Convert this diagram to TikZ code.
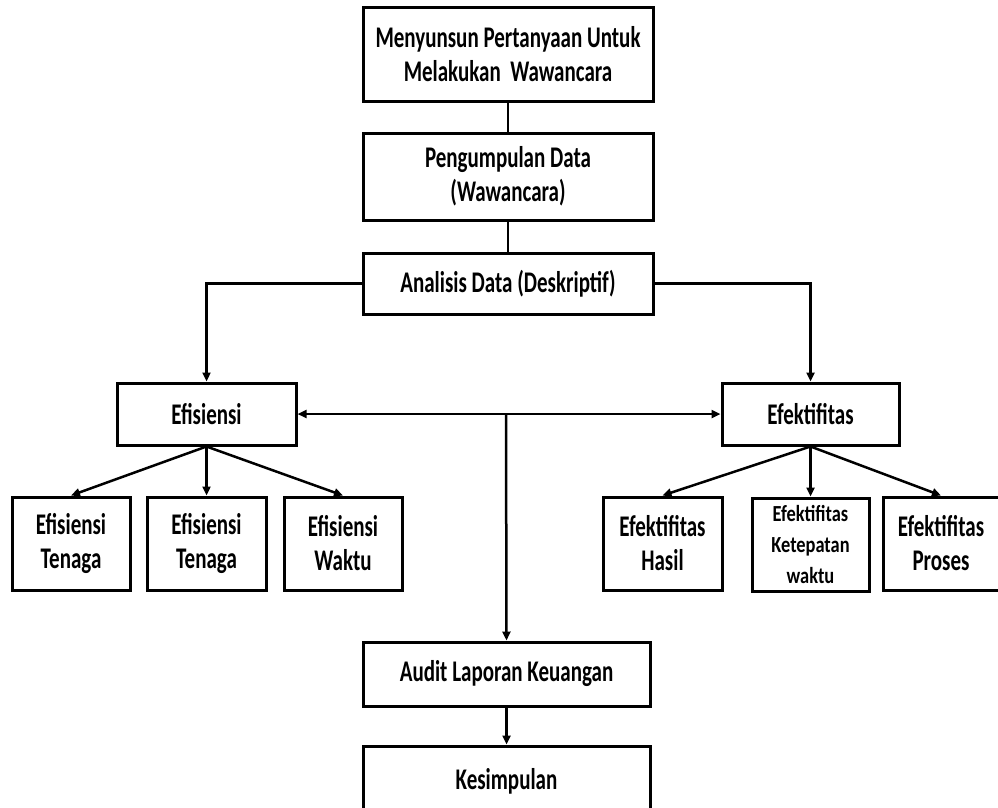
\documentclass[tikz,border=0pt]{standalone}
\usepackage{fontspec}
\setmainfont{Carlito}[FakeStretch=0.7]
\newfontfamily\wideboxfont{Carlito}[FakeStretch=0.8]
\usetikzlibrary{arrows.meta}
\begin{document}
\begin{tikzpicture}[x=1pt,y=-1pt,
  box/.style={draw, line width=3pt, align=center, inner sep=0pt, font=\bfseries\fontsize{30}{34}\selectfont},
  conn/.style={line width=2.5pt},
  arr/.style={conn, -{Triangle[length=9pt,width=8pt]}}]
\useasboundingbox[fill=white] (0,0) rectangle (998,808);
\node[box, minimum width=290, minimum height=93] (b1) at (508,54.5) {Menyunsun Pertanyaan Untuk\\Melakukan\ \ Wawancara};
\node[box, minimum width=290, minimum height=87] (b2) at (508,176.5) {Pengumpulan Data\\(Wawancara)};
\node[box, minimum width=290, minimum height=61] (b3) at (508,283.5) {Analisis Data (Deskriptif)};
\node[box, minimum width=179, minimum height=62] (ef) at (206.5,414) {Efisiensi};
\node[box, minimum width=177, minimum height=62] (ek) at (810.5,414) {Efektifitas};
\node[box, minimum width=118, minimum height=93] (c1) at (71,543.5) {Efisiensi\\Tenaga};
\node[box, minimum width=119, minimum height=93] (c2) at (206.5,543.5) {Efisiensi\\Tenaga};
\node[box, minimum width=118, minimum height=93] (c3) at (343,543.5) {Efisiensi\\Waktu};
\node[box, minimum width=119, minimum height=93] (d1) at (662.5,543.5) {Efektifitas\\Hasil};
\node[box, minimum width=117, minimum height=93, font=\wideboxfont\bfseries\fontsize{23}{31}\selectfont] (d2) at (810.5,544.5) {Efektifitas\\Ketepatan\\waktu};
\node[box, minimum width=116, minimum height=93] (d3) at (941,543.5) {Efektifitas\\Proses};
\node[box, minimum width=287, minimum height=64] (au) at (506.5,674) {Audit Laporan Keuangan};
\node[box, minimum width=287, minimum height=70] (ks) at (506.5,781) {Kesimpulan};
\coordinate (mid) at (506,414);
\draw[conn] (b1.south) -- (b2.north);
\draw[conn] (b2.south) -- (b3.north);
\draw[arr] (b3.west) -| (ef.north);
\draw[arr] (b3.east) -| (ek.north);
\draw[arr] (mid) -- (ef.east);
\draw[arr] (mid) -- (ek.west);
\draw[arr] (mid) -- (au.north);
\draw[arr] (au.south) -- (ks.north);
\draw[arr] (ef.south) -- (c1.north);
\draw[arr] (ef.south) -- (c2.north);
\draw[arr] (ef.south) -- (c3.north);
\draw[arr] (ek.south) -- (d1.north);
\draw[arr] (ek.south) -- (d2.north);
\draw[arr] (ek.south) -- (d3.north);
\end{tikzpicture}
\end{document}
